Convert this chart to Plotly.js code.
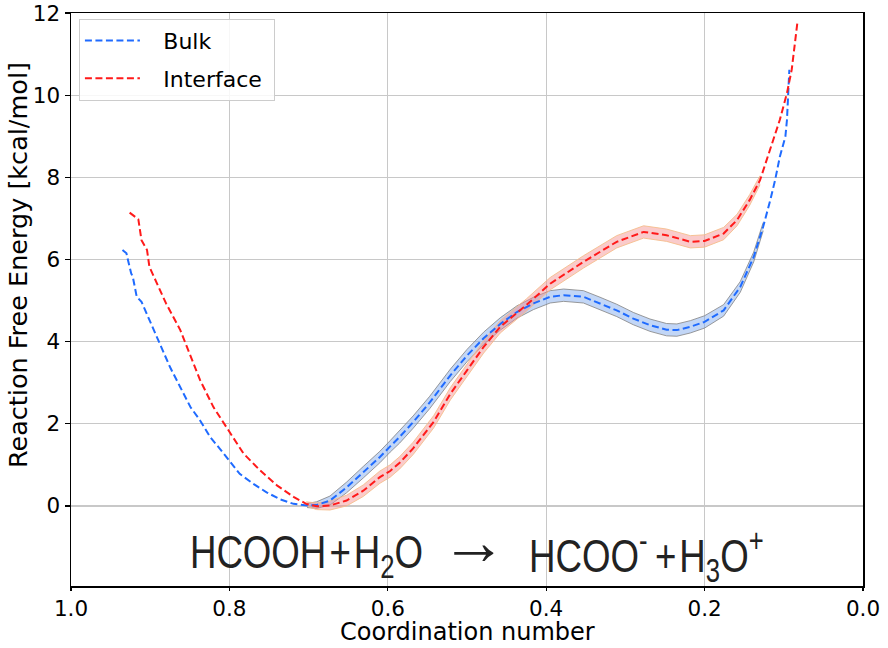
<!DOCTYPE html>
<html>
<head>
<meta charset="utf-8">
<script src="https://cdn.plot.ly/plotly-3.0.1.min.js"></script>
<style>
  html, body { margin: 0; padding: 0; background: #fff; }
  #chart { width: 888px; height: 648px; }
</style>
</head>
<body>
<div id="chart"></div>
<script>
// coordination number (x) and free energy (kcal/mol)
const bulkX = [0.935, 0.930, 0.928, 0.924, 0.922, 0.917, 0.911, 0.901, 0.894, 0.888,
  0.875, 0.862, 0.849, 0.837, 0.824, 0.812, 0.799, 0.787, 0.770, 0.753,
  0.736, 0.719, 0.702, 0.690, 0.673, 0.652, 0.631, 0.610, 0.597, 0.585,
  0.568, 0.547, 0.521, 0.500, 0.479, 0.458, 0.437, 0.416, 0.395, 0.378,
  0.353, 0.332, 0.311, 0.290, 0.269, 0.248, 0.235, 0.218, 0.200, 0.176,
  0.155, 0.138, 0.126, 0.117, 0.111, 0.105, 0.101, 0.098, 0.096, 0.095, 0.093];
const bulkY = [6.23, 6.15, 5.98, 5.66, 5.58, 5.09, 4.97, 4.52, 4.19, 3.95,
  3.38, 2.89, 2.40, 2.08, 1.67, 1.39, 1.06, 0.78, 0.54, 0.33,
  0.16, 0.05, 0.01, 0.02, 0.13, 0.45, 0.82, 1.19, 1.45, 1.68,
  2.04, 2.52, 3.18, 3.66, 4.08, 4.43, 4.72, 4.93, 5.09, 5.13,
  5.09, 4.93, 4.76, 4.56, 4.40, 4.29, 4.28, 4.36, 4.48, 4.76,
  5.33, 6.06, 6.80, 7.45, 7.93, 8.50, 8.79, 8.99, 9.40, 9.97, 10.62];
// half-width of the shaded uncertainty band (null = no band)
const bulkErr = [null, null, null, null, null, null, null, null, null, null,
  null, null, null, null, null, null, null, null, null, null,
  null, null, 0.05, 0.08, 0.11, 0.13, 0.14, 0.14, 0.14, 0.15,
  0.15, 0.15, 0.15, 0.15, 0.15, 0.15, 0.15, 0.15, 0.15, 0.15,
  0.15, 0.15, 0.15, 0.15, 0.15, 0.15, 0.15, 0.15, 0.15, 0.14,
  0.13, 0.12, 0.10, null, null, null, null, null, null, null, null];

const ifaceX = [0.926, 0.915, 0.911, 0.904, 0.901, 0.890, 0.880, 0.862, 0.849, 0.837,
  0.820, 0.799, 0.782, 0.761, 0.740, 0.719, 0.703, 0.690, 0.673, 0.652,
  0.631, 0.610, 0.597, 0.585, 0.568, 0.542, 0.521, 0.500, 0.479, 0.458,
  0.425, 0.395, 0.353, 0.311, 0.277, 0.248, 0.218, 0.200, 0.176, 0.159,
  0.143, 0.130, 0.117, 0.105, 0.096, 0.090, 0.083];
const ifaceY = [7.14, 6.98, 6.47, 6.23, 5.82, 5.33, 4.93, 4.28, 3.62, 3.06,
  2.40, 1.76, 1.27, 0.86, 0.50, 0.22, 0.05, -0.01, 0.01, 0.13,
  0.37, 0.70, 0.85, 1.05, 1.40, 2.05, 2.73, 3.30, 3.87, 4.36,
  4.89, 5.41, 5.94, 6.43, 6.67, 6.59, 6.43, 6.45, 6.63, 6.96,
  7.45, 7.93, 8.67, 9.40, 10.05, 10.62, 11.74];
const ifaceErr = [null, null, null, null, null, null, null, null, null, null,
  null, null, null, null, null, null, 0.05, 0.08, 0.11, 0.13,
  0.14, 0.15, 0.15, 0.15, 0.15, 0.15, 0.15, 0.15, 0.15, 0.15,
  0.15, 0.15, 0.15, 0.15, 0.15, 0.15, 0.15, 0.15, 0.15, 0.14,
  0.13, 0.11, null, null, null, null, null];

const xTicks = [1.0, 0.8, 0.6, 0.4, 0.2, 0.0];
const yTicks = [0, 2, 4, 6, 8, 10, 12];
const reactants = 'HCOOH\u200a+\u200aH<sub>2</sub>O';
const products = 'HCOO<sup>-</sup>\u2009+\u200aH<sub>3</sub>O<sup>+</sup>';

const font = 'DejaVu Sans, sans-serif';
const chemFont = { family: 'Liberation Sans, Arial, sans-serif', size: 47, color: '#222' };

function band(xs, ys, errs, edge, fill) {
  const bx = [], lo = [], hi = [];
  xs.forEach((x, i) => {
    if (errs[i] == null) return;
    bx.push(x);
    lo.push(ys[i] - errs[i]);
    hi.push(ys[i] + errs[i]);
  });
  return [
    { x: bx, y: hi, type: 'scatter', mode: 'lines', showlegend: false, hoverinfo: 'skip',
      line: { color: edge, width: 1 } },
    { x: bx, y: lo, type: 'scatter', mode: 'lines', showlegend: false, hoverinfo: 'skip',
      line: { color: edge, width: 1 }, fill: 'tonexty', fillcolor: fill }
  ];
}

const traces = [
  ...band(bulkX, bulkY, bulkErr, 'rgba(130,130,130,0.8)', 'rgba(120,165,235,0.45)'),
  ...band(ifaceX, ifaceY, ifaceErr, 'rgba(245,190,140,0.9)', 'rgba(245,140,140,0.45)'),
  {
    x: bulkX, y: bulkY, type: 'scatter', mode: 'lines', legendgroup: 'a',
    name: '\u00a0\u00a0\u2009Bulk',
    line: { color: '#1f6bff', width: 2, dash: '7px,3.5px' }
  },
  {
    x: ifaceX, y: ifaceY, type: 'scatter', mode: 'lines', legendgroup: 'b',
    name: '\u00a0\u00a0\u2009Interface\u00a0',
    line: { color: '#ff1a1a', width: 2, dash: '7px,3.5px' }
  }
];

const layout = {
  width: 888,
  height: 648,
  margin: { l: 71, r: 25, t: 13, b: 62 },
  paper_bgcolor: '#fff',
  plot_bgcolor: '#fff',
  font: { family: font, color: '#000' },
  showlegend: true,
  legend: {
    x: 0.01, y: 0.99, xanchor: 'left', yanchor: 'top',
    bgcolor: 'rgba(255,255,255,0.85)',
    bordercolor: '#cccccc', borderwidth: 1,
    font: { family: font, size: 22, color: '#000' },
    itemwidth: 55,
    tracegroupgap: 6
  },
  xaxis: {
    range: [1.0, 0.0],
    tickvals: xTicks,
    tickformat: '.1f',
    tickfont: { size: 21.5 },
    ticks: 'outside', ticklen: 3, tickwidth: 1.2, tickcolor: '#000',
    showgrid: true, gridcolor: '#c8c8c8', gridwidth: 1.2,
    showline: true, linecolor: '#000', linewidth: 1.5, mirror: true,
    zeroline: false
  },
  yaxis: {
    range: [-1.95, 12],
    tickvals: yTicks,
    tickfont: { size: 21.5 },
    ticks: 'outside', ticklen: 5, tickwidth: 1.2, tickcolor: '#000',
    showgrid: true, gridcolor: '#c8c8c8', gridwidth: 1.2,
    showline: true, linecolor: '#000', linewidth: 1.5, mirror: true,
    zeroline: false
  },
  annotations: [
    { x: 0.703, y: -1.20, xref: 'x', yref: 'y', text: reactants, showarrow: false, font: chemFont },
    {
      x: 0.491, y: -0.86, xref: 'x', yref: 'y', text: '\u2192', showarrow: false,
      font: { family: 'Liberation Sans, Arial, sans-serif', size: 66, color: '#222' }
    },
    { x: 0.273, y: -1.20, xref: 'x', yref: 'y', text: products, showarrow: false, font: chemFont },
    {
      x: 0.5, y: -0.0805, xref: 'paper', yref: 'paper', xanchor: 'center', yanchor: 'middle',
      text: 'Coordination number', showarrow: false,
      font: { family: font, size: 24, color: '#000' }
    },
    {
      x: -0.067, y: 0.56, xref: 'paper', yref: 'paper', xanchor: 'center', yanchor: 'middle',
      text: 'Reaction Free Energy [kcal/mol]', showarrow: false, textangle: -90,
      font: { family: font, size: 25.5, color: '#000' }
    }
  ]
};

Plotly.newPlot('chart', traces, layout, { displayModeBar: false, staticPlot: true }).then(() => {
  // the reaction label in the original uses a condensed face
  [0, 2].forEach(i => {
    const t = document.querySelector('.annotation[data-index="' + i + '"] .annotation-text');
    if (!t) return;
    t.style.transformBox = 'fill-box';
    t.style.transformOrigin = 'center';
    t.style.transform = 'scaleX(0.78)';
  });
});
</script>
</body>
</html>
